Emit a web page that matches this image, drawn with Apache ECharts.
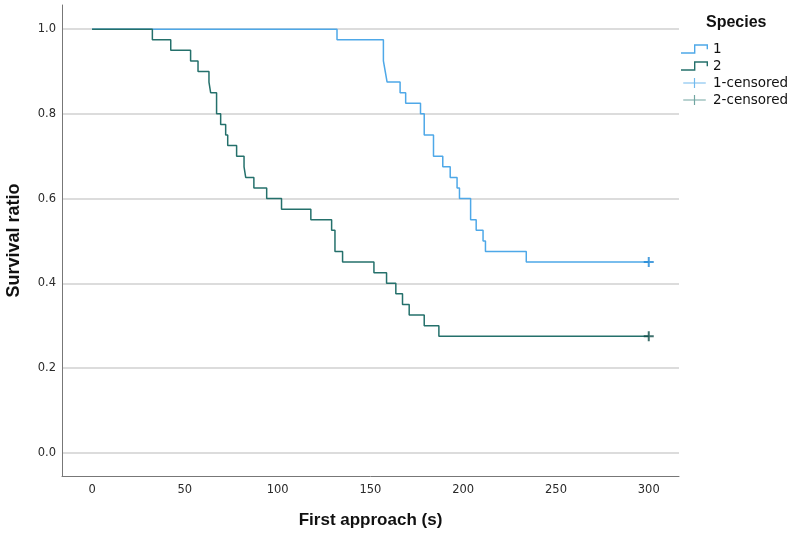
<!DOCTYPE html>
<html>
<head>
<meta charset="utf-8">
<script src="https://cdn.jsdelivr.net/npm/echarts@6/dist/echarts.min.js"></script>
<style>
html,body{margin:0;padding:0;background:#fff;}
#main{width:797px;height:535px;}
</style>
</head>
<body>
<div id="main"></div>
<script>
// Kaplan-Meier steps
var sp1Time = [0, 132, 157, 158, 159, 166, 169, 177, 179, 184, 189, 193, 196.7, 198, 204, 207, 210.7, 212, 234, 300];
var sp1Surv = [1.0, 0.975, 0.925, 0.9, 0.875, 0.85, 0.825, 0.8, 0.75, 0.7, 0.675, 0.65, 0.625, 0.6, 0.55, 0.525, 0.5, 0.475, 0.45, 0.45];
var sp2Time = [0, 32.5, 42.4, 53.1, 57.1, 63, 63.9, 67.1, 69.3, 72, 73.1, 77.9, 81.9, 82.8, 87.2, 94.1, 102.1, 117.9, 129.1, 130.9, 135, 151.9, 158.7, 163.7, 167.3, 170.9, 179, 186.9, 300];
var sp2Surv = [1.0, 0.975, 0.95, 0.925, 0.9, 0.875, 0.85, 0.8, 0.775, 0.75, 0.725, 0.7, 0.675, 0.65, 0.625, 0.6, 0.575, 0.55, 0.525, 0.475, 0.45, 0.425, 0.4, 0.375, 0.35, 0.325, 0.3, 0.275, 0.275];
var censor1 = [[300, 0.45]];
var censor2 = [[300, 0.275]];
var xTicks = [0, 50, 100, 150, 200, 250, 300];
var yTicks = [0, 0.2, 0.4, 0.6, 0.8, 1.0];

function pairs(xs, ys){
	var out = [];
	for (var i = 0; i < xs.length; i++) out.push([xs[i], ys[i]]);
	return out;
}

var stepIcon = 'path://M0,8 L13,8 L13,0 L27,0 L27,5 L25.6,5 L25.6,1.4 L14.4,1.4 L14.4,9.4 L0,9.4 Z';
var crossIcon = 'path://M0,5.3 L27,5.3 L27,6.7 L0,6.7 Z M12.8,0 L14.2,0 L14.2,12 L12.8,12 Z';
var plusMark = 'path://M0,4 L10,4 L10,6 L0,6 Z M4,0 L6,0 L6,10 L4,10 Z';

var blue = '#4ea8e8', teal = '#24706b';
var font = 'DejaVu Sans';

var chart = echarts.init(document.getElementById('main'));
chart.setOption({
	animation: false,
	backgroundColor: '#fff',
	title: {
		text: 'Species', left: 701, top: 10,
		textStyle: {fontFamily: 'Liberation Sans', fontWeight: 'bold', fontSize: 16, color: '#111'}
	},
	legend: {
		orient: 'vertical', left: 676, top: 37,
		itemWidth: 27, itemHeight: 10, itemGap: 3,
		textStyle: {fontFamily: font, fontSize: 13.5, color: '#111'},
		data: [
			{name: '1', icon: stepIcon, itemStyle: {color: blue}},
			{name: '2', icon: stepIcon, itemStyle: {color: teal}},
			{name: '1-censored', icon: crossIcon, itemStyle: {color: blue}},
			{name: '2-censored', icon: crossIcon, itemStyle: {color: '#4e8f8a'}}
		]
	},
	grid: {left: 62, top: 5, right: 118, bottom: 59, containLabel: false, outerBoundsMode: 'none'},
	xAxis: {
		type: 'value', min: -16.2, max: 316.3,
		name: 'First approach (s)', nameLocation: 'middle', nameGap: 36,
		nameTextStyle: {fontFamily: 'Liberation Sans', fontWeight: 'bold', fontSize: 17, color: '#111'},
		axisLine: {show: true, onZero: false, lineStyle: {color: '#777', width: 1}},
		axisTick: {show: false, customValues: xTicks},
		splitLine: {show: false},
		axisLabel: {customValues: xTicks, margin: 8, fontFamily: font, fontSize: 11.5, color: '#2a2a2a'}
	},
	yAxis: {
		type: 'value', min: -0.055, max: 1.057,
		name: 'Survival ratio', nameLocation: 'middle', nameGap: 39,
		nameTextStyle: {fontFamily: 'Liberation Sans', fontWeight: 'bold', fontSize: 18, color: '#111'},
		axisLine: {show: true, onZero: false, lineStyle: {color: '#777', width: 1}},
		axisTick: {show: false, customValues: yTicks},
		splitLine: {show: true, lineStyle: {color: '#d0d0d0', width: 1.5}},
		axisLabel: {
			customValues: yTicks, margin: 6, fontFamily: font, fontSize: 11.5, color: '#2a2a2a',
			formatter: function(v){ return v.toFixed(1); }
		}
	},
	series: [
		{
			name: '1', type: 'line', step: 'end', showSymbol: false,
			data: pairs(sp1Time, sp1Surv),
			itemStyle: {color: blue},
			lineStyle: {color: blue, width: 1.5}, z: 3
		},
		{
			name: '2', type: 'line', step: 'end', showSymbol: false,
			data: pairs(sp2Time, sp2Surv),
			itemStyle: {color: teal},
			lineStyle: {color: teal, width: 1.5}, z: 3
		},
		{
			name: '1-censored', type: 'scatter', data: censor1,
			symbol: plusMark, symbolSize: 10,
			itemStyle: {color: '#1d86d4'}, z: 4
		},
		{
			name: '2-censored', type: 'scatter', data: censor2,
			symbol: plusMark, symbolSize: 10,
			itemStyle: {color: '#0f4d48'}, z: 4
		}
	]
});
</script>
</body>
</html>
